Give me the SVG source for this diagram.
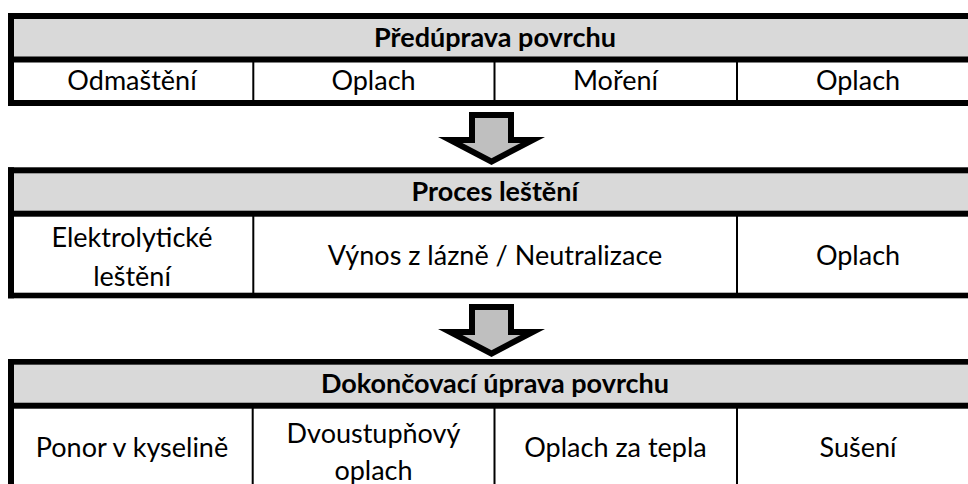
<svg xmlns="http://www.w3.org/2000/svg" width="968" height="484" viewBox="0 0 968 484">
<style>
.bd{fill:#000}
.hd{fill:#D9D9D9}
.vl{fill:#000}
text{font-family:Lato,"Open Sans","Liberation Sans",sans-serif;font-size:27px;fill:#000;text-anchor:middle}
.b{font-weight:bold}
.ao{fill:#000}
.ai{fill:#BFBFBF}
</style>
<defs>
<g id="arrow">
<polygon class="ao" points="469,112 514,112 514,137 545,137 491.5,165 438,137 469,137"/>
<polygon class="ai" points="475,118 508,118 508,143 520.6,143 491.5,158.2 462.4,143 475,143"/>
</g>
</defs>
<rect width="968" height="484" fill="#FFFFFF"/>

<g id="table-predupava">
<rect class="hd" x="14" y="19" width="970" height="38"/>
<rect class="bd" x="8" y="13" width="980" height="6"/>
<rect class="bd" x="8" y="13" width="6" height="93"/>
<rect class="bd" x="8" y="56.5" width="980" height="6"/>
<rect class="bd" x="8" y="100" width="980" height="6"/>
<rect class="vl" x="252.3" y="62" width="2" height="38"/>
<rect class="vl" x="493.5" y="62" width="2" height="38"/>
<rect class="vl" x="736" y="62" width="2" height="38"/>
<g id="h1"><text class="b" x="495" y="47">Předúprava povrchu</text></g>
<g id="c1-1"><text x="132" y="90">Odmaštění</text></g>
<g id="c1-2"><text x="373.5" y="90">Oplach</text></g>
<g id="c1-3"><text x="615.5" y="90">Moření</text></g>
<g id="c1-4"><text x="858" y="90">Oplach</text></g>
</g>

<g id="table-lesteni">
<rect class="hd" x="14" y="173" width="970" height="38"/>
<rect class="bd" x="8" y="167.3" width="980" height="6"/>
<rect class="bd" x="8" y="167.3" width="6" height="131"/>
<rect class="bd" x="8" y="210.7" width="980" height="6"/>
<rect class="bd" x="8" y="292.7" width="980" height="5.6"/>
<rect class="vl" x="252.3" y="216" width="2" height="77"/>
<rect class="vl" x="736" y="216" width="2" height="77"/>
<g id="h2"><text class="b" x="495" y="201">Proces leštění</text></g>
<g id="c2-1"><text x="132" y="247">Elektrolytické</text><text x="132" y="286">leštění</text></g>
<g id="c2-2"><text x="495" y="265">Výnos z lázně / Neutralizace</text></g>
<g id="c2-3"><text x="858" y="265">Oplach</text></g>
</g>

<g id="table-dokoncovaci">
<rect class="hd" x="14" y="364.7" width="970" height="38"/>
<rect class="bd" x="8" y="359" width="980" height="5.7"/>
<rect class="bd" x="8" y="359" width="6" height="130"/>
<rect class="bd" x="8" y="402.7" width="980" height="6"/>
<rect class="vl" x="251.7" y="408" width="2" height="80"/>
<rect class="vl" x="493.5" y="408" width="2" height="80"/>
<rect class="vl" x="736" y="408" width="2" height="80"/>
<g id="h3"><text class="b" x="495" y="393">Dokončovací úprava povrchu</text></g>
<g id="c3-1"><text x="132" y="457">Ponor v kyselině</text></g>
<g id="c3-2"><text x="373.5" y="443">Dvoustupňový</text><text x="373.5" y="480">oplach</text></g>
<g id="c3-3"><text x="615.5" y="457">Oplach za tepla</text></g>
<g id="c3-4"><text x="858" y="457">Sušení</text></g>
</g>

<g id="connectors">
<use href="#arrow"/>
<use href="#arrow" transform="translate(0,192)"/>
</g>
</svg>
